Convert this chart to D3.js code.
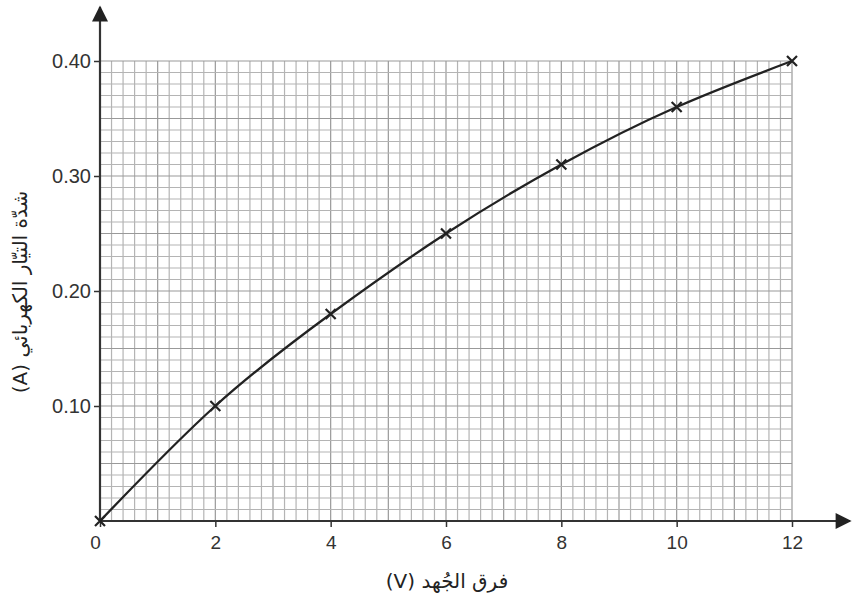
<!DOCTYPE html>
<html>
<head>
<meta charset="utf-8">
<script src="https://cdn.jsdelivr.net/npm/d3@7"></script>
<style>
  body { margin: 0; background: #fff; }
  text { font-family: "Liberation Sans", Arial, sans-serif; }
</style>
</head>
<body>
<svg id="chart" width="853" height="603"></svg>
<script>
// readings from the plot
const voltage = [0, 2, 4, 6, 8, 10, 12]
const current = [0, 0.10, 0.18, 0.25, 0.31, 0.36, 0.40]
const xTicks = [0, 2, 4, 6, 8, 10, 12]
const yTicks = [0.10, 0.20, 0.30, 0.40]
const xTitle = "فرق الجُهد (V)"
const yTitle = "شدّة التيّار الكهربائي (A)"

const margin = { top: 61, right: 61, bottom: 82, left: 100 },
  width = 853 - margin.left - margin.right,
  height = 603 - margin.top - margin.bottom;

const svg = d3.select("#chart")
const g = svg.append("g")
  .attr("transform", "translate(" + margin.left + "," + margin.top + ")");

const x = d3.scaleLinear().domain([0, 12]).range([0, 692])
const y = d3.scaleLinear().domain([0, 0.40]).range([height, 0])

// graph paper grid
const xGrid = d3.range(0, 12.0001, 0.2)
const yGrid = d3.range(0, 0.40001, 0.01)
g.append("g").selectAll("line")
  .data(xGrid)
  .enter().append("line")
  .attr("x1", d => x(d)).attr("x2", d => x(d))
  .attr("y1", 0).attr("y2", height)
  .attr("stroke", (d, i) => i % 5 === 0 ? "#999" : "#b4b4b4")
  .attr("stroke-width", 1.2)
g.append("g").selectAll("line")
  .data(yGrid)
  .enter().append("line")
  .attr("y1", d => y(d)).attr("y2", d => y(d))
  .attr("x1", 0).attr("x2", x(12))
  .attr("stroke", (d, i) => i % 5 === 0 ? "#999" : "#b4b4b4")
  .attr("stroke-width", 1.2)

// axes with arrows
svg.append("defs").append("marker")
  .attr("id", "arrow")
  .attr("viewBox", "0 0 10 10")
  .attr("refX", 9).attr("refY", 5)
  .attr("markerWidth", 18).attr("markerHeight", 16)
  .attr("markerUnits", "userSpaceOnUse")
  .attr("orient", "auto")
  .append("path")
  .attr("d", "M0,0 L10,5 L0,10 Z")
  .attr("fill", "#222")

g.append("line")
  .attr("x1", 0).attr("y1", height)
  .attr("x2", 0).attr("y2", -54)
  .attr("stroke", "#333").attr("stroke-width", 2.2)
  .attr("marker-end", "url(#arrow)")
g.append("line")
  .attr("x1", 0).attr("y1", height)
  .attr("x2", 750).attr("y2", height)
  .attr("stroke", "#333").attr("stroke-width", 2.2)
  .attr("marker-end", "url(#arrow)")

// tick marks + labels
const xAxis = d3.axisBottom(x).tickValues(xTicks).tickSize(6).tickPadding(9)
  .tickFormat(d3.format("d"))
const xg = g.append("g").attr("transform", "translate(0," + height + ")").call(xAxis)
xg.select(".domain").remove()
xg.selectAll(".tick line").attr("stroke", "#333").attr("stroke-width", 1.5)
xg.selectAll(".tick text").attr("font-size", 19).attr("fill", "#333")
  .attr("font-family", "Liberation Sans, Arial, sans-serif")

const yAxis = d3.axisLeft(y).tickValues(yTicks).tickSize(6).tickPadding(3)
  .tickFormat(d3.format(".2f"))
const yg = g.append("g").call(yAxis)
yg.select(".domain").remove()
yg.selectAll(".tick line").attr("stroke", "#333").attr("stroke-width", 1.5)
yg.selectAll(".tick text").attr("font-size", 20).attr("fill", "#333")
  .attr("font-family", "Liberation Sans, Arial, sans-serif")

// the "0" at origin, slightly left of the tick
xg.selectAll(".tick").filter(d => d === 0).select("text").attr("x", -5)

// curve
const pts = voltage.map((v, i) => [v, current[i]])
g.append("path")
  .datum(pts)
  .attr("fill", "none")
  .attr("stroke", "#222")
  .attr("stroke-width", 2.3)
  .attr("d", d3.line()
    .curve(d3.curveNatural)
    .x(d => x(d[0]))
    .y(d => y(d[1])))

// cross markers
g.selectAll(".pt")
  .data(pts)
  .enter().append("path")
  .attr("class", "pt")
  .attr("transform", d => "translate(" + x(d[0]) + "," + y(d[1]) + ")")
  .attr("d", "M-5,-5L5,5M-5,5L5,-5")
  .attr("stroke", "#222")
  .attr("stroke-width", 2.2)

// axis titles
svg.append("text")
  .attr("x", 447).attr("y", 588)
  .attr("text-anchor", "middle")
  .attr("direction", "rtl")
  .attr("font-size", 20).attr("fill", "#222")
  .style("font-family", "'DejaVu Sans', 'Noto Sans', sans-serif")
  .text(xTitle)

svg.append("text")
  .attr("transform", "translate(27,292) rotate(-90)")
  .attr("text-anchor", "middle")
  .attr("direction", "rtl")
  .attr("font-size", 20).attr("fill", "#222")
  .style("font-family", "'DejaVu Sans', 'Noto Sans', sans-serif")
  .text(yTitle)
</script>
</body>
</html>
